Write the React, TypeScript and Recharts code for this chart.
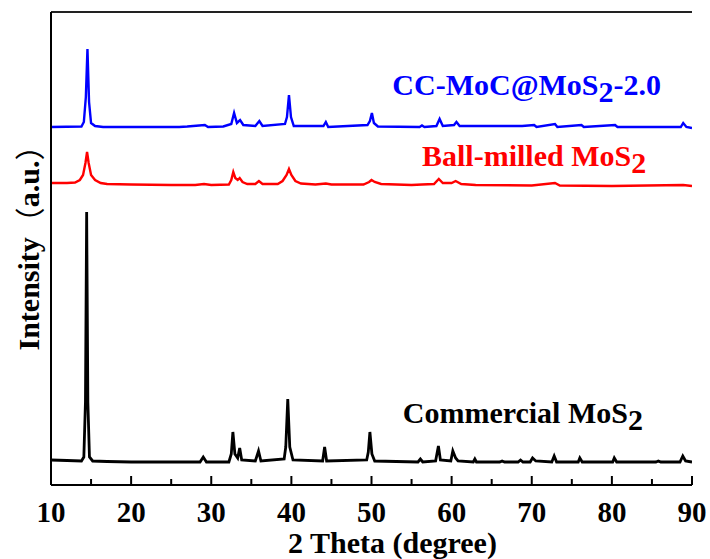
import { LineChart, Line, XAxis, YAxis, ReferenceDot, ReferenceLine } from "recharts";

// 2θ / intensity pairs (intensity above each trace's own baseline)
const commercialTheta = [10, 12, 13.8, 14.1, 14.3, 14.45, 14.6, 14.8, 15.2, 17, 20, 25, 28.6, 29.0, 29.4, 32.2, 32.5, 32.7, 32.95, 33.3, 33.55, 33.8, 35.5, 35.9, 36.2, 39.1, 39.3, 39.55, 39.8, 40.2, 43.9, 44.15, 44.4, 49.4, 49.6, 49.8, 50.05, 50.4, 55.8, 56.1, 56.4, 58.0, 58.35, 58.6, 59.9, 60.15, 60.5, 60.8, 62.7, 62.9, 63.1, 66.0, 66.3, 66.6, 68.3, 68.6, 68.9, 69.8, 70.1, 70.5, 72.5, 72.8, 73.1, 75.8, 76.0, 76.3, 80.1, 80.3, 80.6, 85.5, 85.8, 86.1, 88.5, 88.85, 89.2, 90];
const commercialI = [2, 1.5, 1, 5, 60, 250, 60, 5, 1, 0.5, 0, 0, 0, 5, 0, 0, 8, 30, 8, 4, 14, 2, 1, 11, 1, 3, 15, 63, 15, 2, 1, 15, 1, 2, 10, 30, 8, 1, 0, 3, 0, 1, 16, 2, 1, 11, 4, 1, 0, 3, 0, 0, 1, 0, 0, 2, 0, 0, 4, 1, 0, 6, 0, 0, 4, 0, 0, 4, 0, 0, 1, 0, 0, 6, 1, 0];

const ballTheta = [10, 12, 13.0, 13.6, 14.0, 14.3, 14.5, 14.7, 15.0, 15.5, 16.2, 17, 20, 25, 28, 29.1, 30, 32.2, 32.5, 32.75, 33.0, 33.3, 33.55, 33.9, 34.5, 35.5, 35.95, 36.4, 38.3, 38.9, 39.4, 39.7, 40.0, 40.5, 41.2, 43, 44.3, 45, 49, 49.7, 50.0, 50.4, 51.2, 55, 56.3, 57.8, 58.4, 58.9, 60.0, 60.5, 61.2, 63, 70, 72.9, 73.5, 80, 88.9, 90];
const ballI = [2, 2, 2.5, 5, 10, 22, 33, 22, 10, 5, 2, 1, 0.5, 0, 0, 1, 0, 0.5, 5, 13, 7, 5, 7, 3, 1, 1, 4, 1, 1, 4, 10, 16, 10, 4, 1.5, 0.5, 1.5, 0.5, 0.5, 3, 5, 3, 1, 0, 0.5, 1, 6, 2, 2, 4, 1, 0, -0.5, 2, -0.5, -1, 0, -1];

const cmTheta = [10, 13.8, 14.1, 14.35, 14.55, 14.75, 15.0, 15.5, 16.5, 26, 27, 29.2, 29.6, 31.5, 32.5, 32.85, 33.2, 33.6, 34.0, 35.5, 36.0, 36.4, 39.2, 39.45, 39.7, 39.95, 40.3, 44.0, 44.3, 44.6, 49.5, 49.8, 50.05, 50.3, 50.8, 56.0, 56.3, 56.6, 58.1, 58.5, 58.9, 60.3, 60.6, 61.0, 62.7, 68.8, 70.3, 70.6, 72.9, 73.2, 76.2, 76.5, 80.4, 80.7, 88.6, 88.9, 89.3, 90];
const cmI = [0, 0.5, 5, 30, 78, 25, 4, 1, 0, 0, 0.5, 2, 0, 0.5, 3, 14, 4, 7, 2, 1, 6, 1, 3, 10, 32, 10, 1, 1, 5, 0, 2, 6, 14, 4, 0.5, 0, 1.5, 0, 1, 8, 1, 2, 5, 1, 1, 1, 2, 0, 3, 0, 2, 0, 2, 0, 0, 4, 0, -1];

// vertical offsets of the stacked traces
const OFFSETS = { commercial: 23, ball: 300, cm: 358 };
const Y_MAX = 473;

const xTicks = [10, 15, 20, 25, 30, 35, 40, 45, 50, 55, 60, 65, 70, 75, 80, 85, 90];

const FONT = "'Times New Roman', 'Liberation Serif', serif";
const CJK = "'Noto Sans CJK SC', 'Noto Sans CJK JP', sans-serif";

const toSeries = (theta: number[], inten: number[], off: number) =>
  theta.map((t, i) => ({ t, v: inten[i] + off }));

const commercial = toSeries(commercialTheta, commercialI, OFFSETS.commercial);
const ball = toSeries(ballTheta, ballI, OFFSETS.ball);
const cm = toSeries(cmTheta, cmI, OFFSETS.cm);

function XTick(props: any) {
  const { x, y, payload } = props;
  const major = payload.value % 10 === 0;
  return (
    <g>
      <line x1={x} x2={x} y1={y} y2={y - (major ? 9 : 6)} stroke="#000" strokeWidth={2} />
      {major && (
        <text x={x} y={y + 37} textAnchor="middle" fontFamily={FONT} fontWeight="bold" fontSize={29} fill="#000">
          {payload.value}
        </text>
      )}
    </g>
  );
}

const seriesLabel = (parts: [string, string, string], color: string) => (p: any) => {
  const { x, y } = p.viewBox;
  return (
    <text x={x} y={y} fontFamily={FONT} fontWeight="bold" fontSize={30} fill={color}>
      {parts[0]}
      <tspan dy={7}>{parts[1]}</tspan>
      <tspan dy={-7}>{parts[2]}</tspan>
    </text>
  );
};

export default function App() {
  return (
    <div style={{ position: "absolute", left: 0, top: 0, width: 710, height: 559, background: "#fff" }}>
      <LineChart width={710} height={559} margin={{ top: 12, right: 18, left: 0, bottom: 0 }}>
        <XAxis
          dataKey="t"
          type="number"
          domain={[10, 90]}
          ticks={xTicks}
          tickSize={0}
          tickMargin={0}
          tick={<XTick />}
          height={74}
          axisLine={{ stroke: "#000", strokeWidth: 2 }}
          tickLine={false}
          allowDataOverflow
          label={{
            content: (p: any) => (
              <text
                x={p.viewBox.x + p.viewBox.width / 2 + 21}
                y={p.viewBox.y + 68}
                textAnchor="middle"
                fontFamily={FONT}
                fontWeight="bold"
                fontSize={30}
                fill="#000"
              >
                2 Theta (degree)
              </text>
            ),
          }}
        />
        <YAxis
          type="number"
          domain={[0, Y_MAX]}
          width={51}
          tick={false}
          tickLine={false}
          allowDataOverflow
          axisLine={{ stroke: "#000", strokeWidth: 2 }}
          label={{
            content: (p: any) => {
              const cx = p.viewBox.x + 28;
              const cy = p.viewBox.y + p.viewBox.height / 2 - 8;
              return (
                <text
                  x={cx}
                  y={cy}
                  transform={`rotate(-90 ${cx} ${cy})`}
                  textAnchor="middle"
                  dominantBaseline="central"
                  fontFamily={FONT}
                  fontWeight="bold"
                  fontSize={30}
                  fill="#000"
                >
                  Intensity
                  <tspan fontFamily={CJK} fontWeight="normal">（</tspan>
                  a.u.
                  <tspan fontFamily={CJK} fontWeight="normal">）</tspan>
                </text>
              );
            },
          }}
        />
        <YAxis
          yAxisId="right"
          orientation="right"
          type="number"
          domain={[0, Y_MAX]}
          width={0}
          tick={false}
          tickLine={false}
          axisLine={{ stroke: "#000", strokeWidth: 2 }}
        />
        <ReferenceLine y={Y_MAX} stroke="#222" strokeWidth={2} />
        <Line data={commercial} dataKey="v" type="linear" stroke="#000" strokeWidth={2.8} dot={false} isAnimationActive={false} />
        <Line data={ball} dataKey="v" type="linear" stroke="#f00" strokeWidth={2.4} dot={false} isAnimationActive={false} />
        <Line data={cm} dataKey="v" type="linear" stroke="#00f" strokeWidth={2.4} dot={false} isAnimationActive={false} />
        <ReferenceDot x={52.6} y={390} r={0} fill="none" stroke="none" label={{ content: seriesLabel(["CC-MoC@MoS", "2", "-2.0"], "#00f") }} />
        <ReferenceDot x={56.3} y={319} r={0} fill="none" stroke="none" label={{ content: seriesLabel(["Ball-milled MoS", "2", ""], "#f00") }} />
        <ReferenceDot x={53.9} y={62} r={0} fill="none" stroke="none" label={{ content: seriesLabel(["Commercial MoS", "2", ""], "#000") }} />
      </LineChart>
    </div>
  );
}
